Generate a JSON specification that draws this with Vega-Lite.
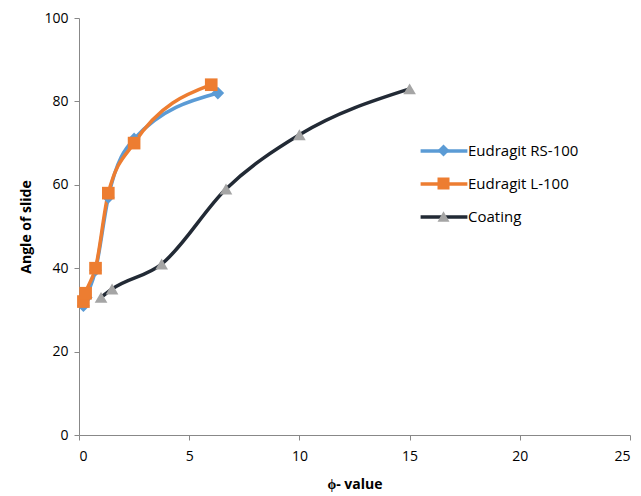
{
  "$schema": "https://vega.github.io/schema/vega-lite/v6.json",
  "width": 551,
  "height": 417,
  "autosize": {"type": "none"},
  "padding": {"left": 79, "top": 18, "right": 11, "bottom": 61},
  "background": "white",
  "config": {
    "view": {"stroke": null},
    "font": "Open Sans",
    "axis": {"grid": false, "domainColor": "#888888", "tickColor": "#888888", "tickSize": 5, "labelFontSize": 14, "labelColor": "#000000", "titleFontSize": 14, "titleFontWeight": "bold", "titleColor": "#000000", "labelFont": "Open Sans", "titleFont": "Open Sans"},
    "legend": {"orient": "none", "legendX": 357, "legendY": 125, "title": null, "labelFontSize": 15, "labelFont": "Open Sans", "labelColor": "#000000", "rowPadding": 17, "symbolSize": 144, "labelOffset": 16}
  },
  "data": {
    "values": [
      {"series": "Eudragit RS-100", "phi": 0.2, "angle": 31},
      {"series": "Eudragit RS-100", "phi": 0.33, "angle": 33},
      {"series": "Eudragit RS-100", "phi": 0.75, "angle": 39.5},
      {"series": "Eudragit RS-100", "phi": 1.33, "angle": 57},
      {"series": "Eudragit RS-100", "phi": 2.5, "angle": 71},
      {"series": "Eudragit RS-100", "phi": 6.3, "angle": 82},
      {"series": "Eudragit L-100", "phi": 0.2, "angle": 32},
      {"series": "Eudragit L-100", "phi": 0.3, "angle": 34},
      {"series": "Eudragit L-100", "phi": 0.75, "angle": 40},
      {"series": "Eudragit L-100", "phi": 1.33, "angle": 58},
      {"series": "Eudragit L-100", "phi": 2.5, "angle": 70},
      {"series": "Eudragit L-100", "phi": 6.0, "angle": 84},
      {"series": "Coating", "phi": 1.0, "angle": 33},
      {"series": "Coating", "phi": 1.5, "angle": 35},
      {"series": "Coating", "phi": 3.75, "angle": 41},
      {"series": "Coating", "phi": 6.67, "angle": 59},
      {"series": "Coating", "phi": 10, "angle": 72},
      {"series": "Coating", "phi": 15, "angle": 83}
    ]
  },
  "encoding": {
    "x": {"field": "phi", "type": "quantitative", "title": "ϕ- value", "scale": {"domain": [0, 25], "nice": false}, "axis": {"values": [0, 5, 10, 15, 20, 25], "titlePadding": 14, "labelPadding": 9}},
    "y": {"field": "angle", "type": "quantitative", "title": "Angle of slide", "scale": {"domain": [0, 100], "nice": false}, "axis": {"values": [0, 20, 40, 60, 80, 100], "titlePadding": 10, "labelPadding": 6}}
  },
  "layer": [
    {
      "mark": {"type": "line", "interpolate": "monotone", "strokeWidth": 3.5},
      "encoding": {
        "stroke": {"field": "series", "type": "nominal", "scale": {"domain": ["Coating", "Eudragit L-100", "Eudragit RS-100"], "range": ["#222A35", "#ED7D31", "#5B9BD5"]}, "legend": {"values": ["Eudragit RS-100", "Eudragit L-100", "Coating"], "symbolType": "M-3.9,0H3.9", "symbolStrokeWidth": 3.5, "symbolFillColor": "transparent"}},
        "detail": {"field": "series"}
      }
    },
    {
      "mark": {"type": "point", "filled": true, "opacity": 1, "size": 160},
      "encoding": {
        "shape": {"field": "series", "type": "nominal", "scale": {"domain": ["Eudragit RS-100", "Eudragit L-100", "Coating"], "range": ["diamond", "square", "triangle-up"]}, "legend": {"labelOpacity": 0, "symbolStrokeWidth": 0}},
        "fill": {"field": "series", "type": "nominal", "scale": {"domain": ["Eudragit RS-100", "Eudragit L-100", "Coating"], "range": ["#5B9BD5", "#ED7D31", "#A5A5A5"]}, "legend": {"labelOpacity": 0, "symbolStrokeWidth": 0}}
      }
    }
  ]
}
